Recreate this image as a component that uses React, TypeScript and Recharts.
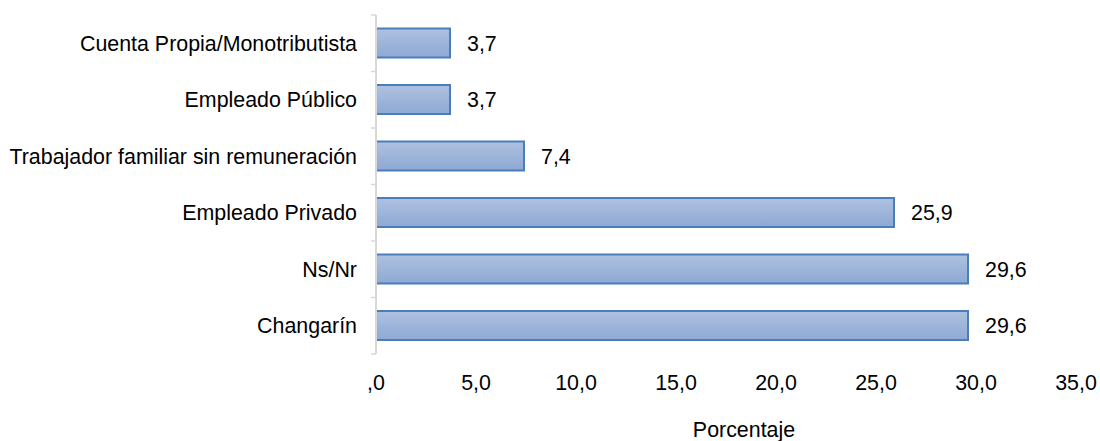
import React from "react";
import { BarChart, Bar, XAxis, YAxis, LabelList } from "recharts";

const categories = [
  "Cuenta Propia/Monotributista",
  "Empleado Público",
  "Trabajador familiar sin remuneración",
  "Empleado Privado",
  "Ns/Nr",
  "Changarín",
];
const values = [3.7, 3.7, 7.4, 25.9, 29.6, 29.6];
const xTicks = [0, 5, 10, 15, 20, 25, 30, 35];
const axisTitle = "Porcentaje";

const data = categories.map((c, i) => ({ name: c, value: values[i] }));

const W = 1100;
const H = 441;
const M_TOP = 15;
const X_H = 87;
const Y_W = 376;
const FONT = "'Liberation Sans', Arial, Helvetica, sans-serif";
const FS = 21.4;
const BAND = (H - M_TOP - X_H) / categories.length;
const AXIS_COLOR = "#D9D9D9";

const fmt = (v: number) => (v === 0 ? ",0" : v.toFixed(1).replace(".", ","));

const YTick = (props: any) => {
  const { x, y, payload, index } = props;
  const ax = x + 19;
  return (
    <g>
      <line x1={ax - 5} x2={ax} y1={y - BAND / 2} y2={y - BAND / 2} stroke={AXIS_COLOR} strokeWidth={1.5} />
      {index === categories.length - 1 && (
        <line x1={ax - 5} x2={ax} y1={y + BAND / 2} y2={y + BAND / 2} stroke={AXIS_COLOR} strokeWidth={1.5} />
      )}
      <text x={x} y={y} dy="0.36em" textAnchor="end" fill="#000" fontSize={FS} fontFamily={FONT}>
        {payload.value}
      </text>
    </g>
  );
};

export default function App() {
  return (
    <div style={{ position: "absolute", left: 0, top: 0, width: W, height: H, background: "#fff" }}>
      <BarChart
        width={W}
        height={H}
        data={data}
        layout="vertical"
        margin={{ top: M_TOP, right: 24, bottom: 0, left: 0 }}
        barCategoryGap="24%"
      >
        <defs>
          <linearGradient id="barGrad" x1="0" y1="0" x2="0" y2="1">
            <stop offset="0%" stopColor="#AEC1E0" />
            <stop offset="100%" stopColor="#8EA9D4" />
          </linearGradient>
        </defs>
        <XAxis
          type="number"
          domain={[0, 35]}
          ticks={xTicks}
          interval={0}
          axisLine={false}
          tickLine={false}
          tickSize={0}
          tickMargin={21}
          height={X_H}
          tickFormatter={fmt}
          tick={{ fill: "#000", fontSize: FS, fontFamily: FONT }}
          label={{
            value: axisTitle,
            position: "insideBottom",
            offset: 4,
            dx: 18,
            fill: "#000",
            fontSize: FS,
            fontFamily: FONT,
          }}
        />
        <YAxis
          type="category"
          dataKey="name"
          width={Y_W}
          axisLine={{ stroke: AXIS_COLOR, strokeWidth: 2 }}
          tickLine={false}
          tickSize={0}
          tickMargin={19}
          interval={0}
          tick={<YTick />}
        />
        <Bar
          dataKey="value"
          fill="url(#barGrad)"
          stroke="#4A7EBB"
          strokeWidth={2}
          isAnimationActive={false}
        >
          <LabelList
            dataKey="value"
            position="right"
            offset={17}
            formatter={(v: any) => fmt(Number(v))}
            fill="#000"
            fontSize={FS}
            fontFamily={FONT}
          />
        </Bar>
      </BarChart>
    </div>
  );
}
